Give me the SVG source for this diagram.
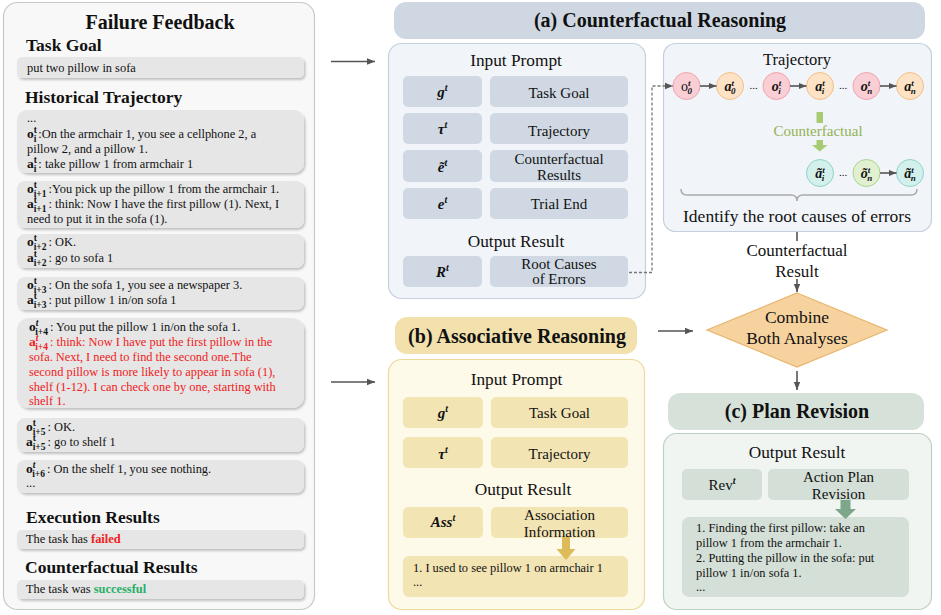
<svg xmlns="http://www.w3.org/2000/svg" width="941" height="615" viewBox="0 0 941 615">
<defs>
<style>
text{font-family:"Liberation Serif","Times New Roman",serif;fill:#111}
.h1{font-size:20px;font-weight:bold}
.h2{font-size:17.5px;font-weight:bold}
.lt{font-size:12.4px}
.b{font-weight:bold;font-size:13.5px}
.sp,.sb{font-size:9.5px;font-weight:bold}
.red{fill:#f02020}
.grn{fill:#27b066;font-weight:bold}
.box{fill:#e6e6e6;filter:url(#sh)}
.sec{font-size:17.3px;text-anchor:middle}
.cl{font-size:15px;text-anchor:middle}
.mi{font-size:15px;font-weight:bold;font-style:italic;text-anchor:middle}
.ms{font-size:10px;font-weight:bold;font-style:italic}
.ca{fill:#d0d9e3}
.cb{fill:#f3e4b4}
.cc{fill:#d4e0d7}
.arr{stroke:#555;stroke-width:1.6;fill:none}
.po{fill:#f9cfd5;stroke:#f0a3ac;stroke-width:1}
.pa{fill:#fde2c6;stroke:#f3bf8a;stroke-width:1}
.pc{fill:#d3f0ec;stroke:#8fd3cb;stroke-width:1}
.pg{fill:#e2f0d2;stroke:#a9d38b;stroke-width:1}
.ct{font-size:14px;font-weight:bold;font-style:italic;text-anchor:middle}
.cs{font-size:9px;font-weight:bold;font-style:italic}
.li{font-size:12.4px}
</style>
<filter id="sh" x="-5%" y="-20%" width="112%" height="170%"><feDropShadow dx="1.5" dy="2" stdDeviation="1.2" flood-color="#000" flood-opacity="0.22"/></filter>
<marker id="ar" viewBox="0 0 10 10" refX="10" refY="5" markerWidth="8" markerHeight="8" markerUnits="userSpaceOnUse" orient="auto"><path d="M0,1 L10,5 L0,9 z" fill="#555"/></marker>
</defs>

<g id="failure-feedback">
<rect x="3.5" y="2.5" width="311" height="607" rx="14" fill="#f8f8f8" stroke="#c8c8c8" stroke-width="1.2"/>
<text x="160" y="29" class="h1" text-anchor="middle">Failure Feedback</text>
<text x="26" y="51" class="h2">Task Goal</text>
<rect x="17" y="57" width="287" height="21" rx="5" class="box"/>
<text x="27" y="72" class="lt">put two pillow in sofa</text>
<text x="25" y="103" class="h2">Historical Trajectory</text>

<rect x="17" y="110" width="287" height="63" rx="10" class="box"/>
<text x="27" y="122" class="lt">...</text>
<text x="27" y="138" class="lt"><tspan class="b">o</tspan><tspan class="sp" dy="-5.5">t</tspan><tspan class="sb" dx="-3.2" dy="9">i</tspan><tspan dx="2" dy="-3.5">:On the armchair 1, you see a cellphone 2, a</tspan></text>
<text x="27" y="153" class="lt">pillow 2, and a pillow 1.</text>
<text x="27" y="168" class="lt"><tspan class="b">a</tspan><tspan class="sp" dy="-5.5">t</tspan><tspan class="sb" dx="-3.2" dy="9">i</tspan><tspan dx="2" dy="-3.5">:  take pillow 1 from armchair 1</tspan></text>

<rect x="17" y="181" width="287" height="47" rx="8" class="box"/>
<text x="27" y="193" class="lt"><tspan class="b">o</tspan><tspan class="sp" dy="-5.5">t</tspan><tspan class="sb" dx="-3.2" dy="9">i+1</tspan><tspan dx="2" dy="-3.5">:You pick up the pillow 1 from the armchair 1.</tspan></text>
<text x="27" y="208" class="lt"><tspan class="b">a</tspan><tspan class="sp" dy="-5.5">t</tspan><tspan class="sb" dx="-3.2" dy="9">i+1</tspan><tspan dx="2" dy="-3.5">:  think: Now I have the first pillow (1). Next, I</tspan></text>
<text x="27" y="223" class="lt">need to put it in the sofa (1).</text>

<rect x="17" y="234" width="287" height="34" rx="8" class="box"/>
<text x="27" y="246" class="lt"><tspan class="b">o</tspan><tspan class="sp" dy="-5.5">t</tspan><tspan class="sb" dx="-3.2" dy="9">i+2</tspan><tspan dx="2" dy="-3.5">: OK.</tspan></text>
<text x="27" y="262" class="lt"><tspan class="b">a</tspan><tspan class="sp" dy="-5.5">t</tspan><tspan class="sb" dx="-3.2" dy="9">i+2</tspan><tspan dx="2" dy="-3.5">:  go to sofa 1</tspan></text>

<rect x="17" y="277" width="287" height="33" rx="8" class="box"/>
<text x="27" y="289" class="lt"><tspan class="b">o</tspan><tspan class="sp" dy="-5.5">t</tspan><tspan class="sb" dx="-3.2" dy="9">i+3</tspan><tspan dx="2" dy="-3.5">: On the sofa 1, you see a newspaper 3.</tspan></text>
<text x="27" y="304" class="lt"><tspan class="b">a</tspan><tspan class="sp" dy="-5.5">t</tspan><tspan class="sb" dx="-3.2" dy="9">i+3</tspan><tspan dx="2" dy="-3.5">: put pillow 1 in/on sofa 1</tspan></text>

<rect x="17" y="318" width="287" height="90" rx="12" class="box"/>
<text x="29" y="331" class="lt"><tspan class="b">o</tspan><tspan class="sp" dy="-5.5" font-style="italic">t</tspan><tspan class="sb" dx="-3.2" dy="9">i+4</tspan><tspan dx="2" dy="-3.5">: You put the pillow 1 in/on the sofa 1.</tspan></text>
<text x="29" y="346" class="lt red"><tspan class="b">a</tspan><tspan class="sp" dy="-5.5" font-style="italic">t</tspan><tspan class="sb" dx="-3.2" dy="9">i+4</tspan><tspan dx="2" dy="-3.5">: think: Now I have put the first pillow in the</tspan></text>
<text x="29" y="361" class="lt red">sofa. Next, I need to find the second one.The</text>
<text x="29" y="376" class="lt red">second pillow is more likely to appear in sofa (1),</text>
<text x="29" y="391" class="lt red">shelf (1-12). I can check one by one, starting with</text>
<text x="29" y="405" class="lt red">shelf 1.</text>

<rect x="17" y="418" width="287" height="34" rx="8" class="box"/>
<text x="26" y="431" class="lt"><tspan class="b">o</tspan><tspan class="sp" dy="-5.5">t</tspan><tspan class="sb" dx="-3.2" dy="9">i+5</tspan><tspan dx="2" dy="-3.5">: OK.</tspan></text>
<text x="26" y="446" class="lt"><tspan class="b">a</tspan><tspan class="sp" dy="-5.5">t</tspan><tspan class="sb" dx="-3.2" dy="9">i+5</tspan><tspan dx="2" dy="-3.5">: go to shelf 1</tspan></text>

<rect x="17" y="460" width="287" height="33" rx="8" class="box"/>
<text x="26" y="473" class="lt"><tspan class="b">o</tspan><tspan class="sp" dy="-5.5" font-style="italic">t</tspan><tspan class="sb" dx="-3.2" dy="9">i+6</tspan><tspan dx="2" dy="-3.5">: On the shelf 1, you see nothing.</tspan></text>
<text x="26" y="487" class="lt">...</text>

<text x="26" y="523" class="h2">Execution Results</text>
<rect x="17" y="530" width="287" height="19" rx="5" class="box"/>
<text x="26" y="543" class="lt">The task has <tspan font-weight="bold" fill="#f02020">failed</tspan></text>
<text x="25" y="573" class="h2">Counterfactual Results</text>
<rect x="17" y="580" width="287" height="19" rx="5" class="box"/>
<text x="26" y="593" class="lt">The task was <tspan class="grn">successful</tspan></text>
</g>

<g id="counterfactual-reasoning">
<rect x="394" y="2" width="531" height="37" rx="12" fill="#cfd8e2"/>
<text x="660" y="27" class="h1" text-anchor="middle">(a) Counterfactual Reasoning</text>
<rect x="388.5" y="43.5" width="257" height="255" rx="13" fill="#f1f4f8" stroke="#c5d0dc" stroke-width="1.2"/>
<text x="516" y="66" class="sec">Input Prompt</text>
<rect x="403" y="76" width="79" height="31" rx="5" class="ca"/>
<rect x="490" y="76" width="138" height="31" rx="5" class="ca"/>
<rect x="403" y="113" width="79" height="31" rx="5" class="ca"/>
<rect x="490" y="113" width="138" height="31" rx="5" class="ca"/>
<rect x="403" y="150" width="79" height="32" rx="5" class="ca"/>
<rect x="490" y="150" width="138" height="32" rx="5" class="ca"/>
<rect x="403" y="188" width="79" height="31" rx="5" class="ca"/>
<rect x="490" y="188" width="138" height="31" rx="5" class="ca"/>
<text x="516" y="247" class="sec">Output Result</text>
<rect x="403" y="256" width="79" height="31" rx="5" class="ca"/>
<rect x="490" y="256" width="138" height="31" rx="5" class="ca"/>
<text x="442.5" y="97" class="mi">g<tspan class="ms" dy="-6">t</tspan></text>
<text x="442.5" y="134" class="mi">τ<tspan class="ms" dy="-6">t</tspan></text>
<text x="442.5" y="172" class="mi">ẽ<tspan class="ms" dy="-6">t</tspan></text>
<text x="442.5" y="209" class="mi">e<tspan class="ms" dy="-6">t</tspan></text>
<text x="442.5" y="277" class="mi">R<tspan class="ms" dy="-6">t</tspan></text>
<text x="559" y="98" class="cl">Task Goal</text>
<text x="559" y="136" class="cl">Trajectory</text>
<text x="559" y="164" class="cl">Counterfactual</text>
<text x="559" y="180" class="cl">Results</text>
<text x="559" y="209" class="cl">Trial End</text>
<text x="559" y="269" class="cl">Root Causes</text>
<text x="559" y="284" class="cl">of Errors</text>
</g>

<g id="trajectory">
<rect x="663.5" y="43.5" width="268" height="188" rx="12" fill="#f1f4f8" stroke="#c5d0dc" stroke-width="1.2"/>
<text x="797" y="65" font-size="16.5" text-anchor="middle">Trajectory</text>
<circle cx="686.5" cy="86" r="13.5" class="po"/>
<circle cx="730" cy="86" r="13.5" class="pa"/>
<circle cx="776.5" cy="86" r="13.5" class="po"/>
<circle cx="820" cy="86" r="13.5" class="pa"/>
<circle cx="866.5" cy="86" r="13.5" class="po"/>
<circle cx="910" cy="86" r="13.5" class="pa"/>
<circle cx="820" cy="173" r="13.5" class="pc"/>
<circle cx="866.5" cy="173" r="13.5" class="pg"/>
<circle cx="910" cy="173" r="13.5" class="pc"/>
<text x="686.5" y="91" font-size="14" text-anchor="middle">o<tspan class="cs" dy="-5">t</tspan><tspan class="cs" font-style="normal" dx="-3" dy="8">0</tspan></text>
<text x="730" y="91" class="ct">a<tspan class="cs" dy="-5">t</tspan><tspan class="cs" font-style="normal" dx="-3" dy="8">0</tspan></text>
<text x="776.5" y="91" class="ct">o<tspan class="cs" dy="-5">t</tspan><tspan class="cs" dx="-3" dy="8">i</tspan></text>
<text x="820" y="91" class="ct">a<tspan class="cs" dy="-5">t</tspan><tspan class="cs" dx="-3" dy="8">i</tspan></text>
<text x="866.5" y="91" class="ct">o<tspan class="cs" dy="-5">t</tspan><tspan class="cs" dx="-3" dy="8">n</tspan></text>
<text x="910" y="91" class="ct">a<tspan class="cs" dy="-5">t</tspan><tspan class="cs" dx="-3" dy="8">n</tspan></text>
<text x="820" y="178" class="ct">ã<tspan class="cs" dy="-5">t</tspan><tspan class="cs" dx="-3" dy="8">i</tspan></text>
<text x="866.5" y="178" class="ct">õ<tspan class="cs" dy="-5">t</tspan><tspan class="cs" dx="-3" dy="8">n</tspan></text>
<text x="910" y="178" class="ct">ã<tspan class="cs" dy="-5">t</tspan><tspan class="cs" dx="-3" dy="8">n</tspan></text>
<text x="753.5" y="89" font-size="11" text-anchor="middle">...</text>
<text x="843" y="89" font-size="11" text-anchor="middle">...</text>
<text x="843" y="176" font-size="11" text-anchor="middle">...</text>
<line x1="700" y1="86" x2="716.5" y2="86" class="arr" marker-end="url(#ar)"/>
<line x1="790" y1="86" x2="806.5" y2="86" class="arr" marker-end="url(#ar)"/>
<line x1="880" y1="86" x2="896.5" y2="86" class="arr" marker-end="url(#ar)"/>
<line x1="880" y1="173" x2="896.5" y2="173" class="arr" marker-end="url(#ar)"/>
<rect x="816.5" y="112" width="6.5" height="11" fill="#a6cb72"/>
<text x="818" y="136" font-size="15" text-anchor="middle" style="fill:#93b254">Counterfactual</text>
<rect x="816.5" y="140" width="6.5" height="5.5" fill="#a6cb72"/>
<path d="M812,145 L827.5,145 L819.75,151.5 z" fill="#a6cb72"/>
<path d="M681,189 Q681,195 687,195 L791,195 Q797,195 797,201 Q797,195 803,195 L911,195 Q917,195 917,189" fill="none" stroke="#aaa" stroke-width="1.5"/>
<text x="797" y="222" font-size="17.5" text-anchor="middle">Identify the root causes of errors</text>
</g>

<g id="combine">
<text x="797" y="256" font-size="17" text-anchor="middle">Counterfactual</text>
<text x="797" y="277" font-size="17" text-anchor="middle">Result</text>
<path d="M797,293 L887,330 L797,367 L707,330 z" fill="#f6d29f" stroke="#e8b56c" stroke-width="1.2"/>
<text x="797" y="323" font-size="17.5" text-anchor="middle">Combine</text>
<text x="797" y="344" font-size="17.5" text-anchor="middle">Both  Analyses</text>
</g>

<g id="associative-reasoning">
<rect x="395" y="317" width="242" height="37" rx="12" fill="#f2e1ad"/>
<text x="517" y="343" class="h1" text-anchor="middle">(b) Associative Reasoning</text>
<rect x="388.5" y="359.5" width="256" height="250" rx="13" fill="#fefaea" stroke="#ecd99b" stroke-width="1.2"/>
<text x="516.5" y="385" class="sec">Input Prompt</text>
<rect x="403" y="397" width="80" height="31" rx="5" class="cb"/>
<rect x="491" y="397" width="137" height="31" rx="5" class="cb"/>
<rect x="403" y="437" width="80" height="31" rx="5" class="cb"/>
<rect x="491" y="437" width="137" height="31" rx="5" class="cb"/>
<text x="523" y="495" class="sec">Output Result</text>
<rect x="403" y="507" width="80" height="31" rx="5" class="cb"/>
<rect x="491" y="507" width="137" height="31" rx="5" class="cb"/>
<rect x="403" y="556" width="225" height="41" rx="6" class="cb"/>
<text x="443" y="418" class="mi">g<tspan class="ms" dy="-6">t</tspan></text>
<text x="443" y="459" class="mi">τ<tspan class="ms" dy="-6">t</tspan></text>
<text x="443" y="527" class="mi">Ass<tspan class="ms" dy="-6">t</tspan></text>
<text x="559.5" y="520" class="cl">Association</text>
<text x="559.5" y="537" class="cl">Information</text>
<text x="559.5" y="418" class="cl">Task Goal</text>
<text x="559.5" y="459" class="cl">Trajectory</text>
<rect x="562" y="537" width="8" height="13" fill="#dcbb58"/>
<path d="M556.5,549 L575.5,549 L566,560 z" fill="#dcbb58"/>
<text x="413" y="572" class="li">1. I used to see pillow 1 on armchair 1</text>
<text x="413" y="586" class="li">...</text>
</g>

<g id="plan-revision">
<rect x="668" y="393" width="256" height="37" rx="12" fill="#d6e2d9"/>
<text x="797" y="418" class="h1" text-anchor="middle">(c) Plan Revision</text>
<rect x="663.5" y="433.5" width="268" height="176" rx="13" fill="#f1f5f2" stroke="#bdd1c3" stroke-width="1.2"/>
<text x="797" y="458" class="sec">Output Result</text>
<rect x="682" y="469" width="80" height="31" rx="5" class="cc"/>
<rect x="768" y="469" width="141" height="31" rx="5" class="cc"/>
<rect x="682" y="517" width="227" height="80" rx="7" class="cc"/>
<text x="722" y="490" class="cl">Rev<tspan class="ms" dy="-6">t</tspan></text>
<text x="838.5" y="482" class="cl">Action Plan</text>
<text x="838.5" y="499" class="cl">Revision</text>
<rect x="840.5" y="500" width="10" height="10" fill="#7ea68a"/>
<path d="M835,509 L856,509 L845.5,519 z" fill="#7ea68a"/>
<text x="696" y="532" class="li">1. Finding the first pillow: take an</text>
<text x="696" y="547" class="li">pillow 1 from the armchair 1.</text>
<text x="696" y="562" class="li">2. Putting the pillow in the sofa: put</text>
<text x="696" y="577" class="li">pillow 1 in/on sofa 1.</text>
<text x="696" y="591" class="li">...</text>
</g>

<g id="connectors">
<line x1="331" y1="61.5" x2="375" y2="61.5" class="arr" marker-end="url(#ar)"/>
<line x1="331" y1="382" x2="375" y2="382" class="arr" marker-end="url(#ar)"/>
<path d="M629,272.5 H652 V86 H673" fill="none" stroke="#777" stroke-width="1.3" stroke-dasharray="3,2" marker-end="url(#ar)"/>
<line x1="797" y1="232" x2="797" y2="241" class="arr"/>
<line x1="797" y1="279" x2="797" y2="292" class="arr" marker-end="url(#ar)"/>
<line x1="658" y1="331" x2="693" y2="331" class="arr" marker-end="url(#ar)"/>
<line x1="797" y1="371" x2="797" y2="390" class="arr" marker-end="url(#ar)"/>
</g>
</svg>
